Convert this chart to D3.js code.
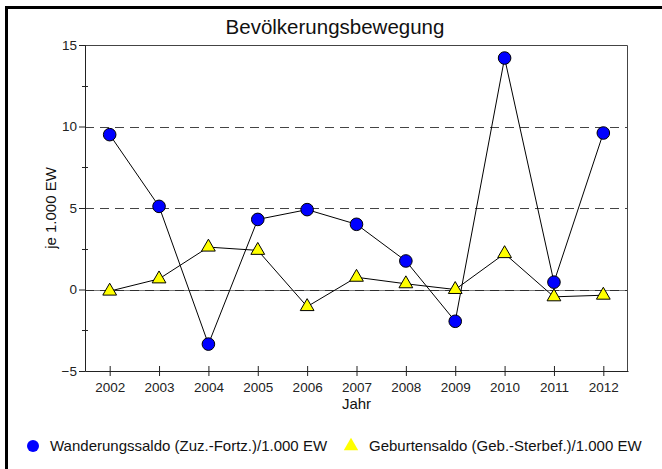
<!DOCTYPE html>
<html>
<head>
<meta charset="utf-8">
<script src="https://cdn.jsdelivr.net/npm/d3@7"></script>
<style>
  body { margin: 0; background: #fff; }
  svg { display: block; font-family: Arial, "Liberation Sans", sans-serif; }
</style>
</head>
<body>
<svg id="chart" width="662" height="469"></svg>
<script>
// data
const years = [2002, 2003, 2004, 2005, 2006, 2007, 2008, 2009, 2010, 2011, 2012];
const wanderung = [9.5, 5.1, -3.35, 4.3, 4.9, 4.0, 1.75, -1.95, 14.2, 0.45, 9.6];
const geburten = [-0.1, 0.65, 2.6, 2.4, -1.05, 0.75, 0.35, 0.0, 2.2, -0.45, -0.35];
const yTicks = [-5, 0, 5, 10, 15];
const yMinor = [-2.5, 2.5, 7.5, 12.5];
const gridVals = [0, 5, 10];
const seriesNames = ["Wanderungssaldo (Zuz.-Fortz.)/1.000 EW", "Geburtensaldo (Geb.-Sterbef.)/1.000 EW"];

const margin = {top: 45, right: 34, bottom: 98, left: 85};
const W = 662, H = 469;
const w = W - margin.left - margin.right;
const h = H - margin.top - margin.bottom;

const svg = d3.select("#chart");

// outer frame (only top and left visible)
svg.append("path")
    .attr("d", `M6.5,${H} V7.5 H${W}`)
    .attr("fill", "none")
    .attr("stroke", "#000")
    .attr("stroke-width", 3);

svg.append("text")
    .attr("x", 335).attr("y", 34)
    .attr("text-anchor", "middle")
    .attr("font-size", "20.5px")
    .attr("fill", "#111")
    .text("Bevölkerungsbewegung");

const g = svg.append("g").attr("transform", `translate(${margin.left},${margin.top})`);

const x = d3.scaleLinear().domain([2001.5, 2012.5]).range([0, w]);
const y = d3.scaleLinear().domain([-5, 15]).range([h, 0]);

// dashed gridlines
g.selectAll(".grid")
  .data(gridVals)
  .enter().append("line")
    .attr("x1", 0).attr("x2", w)
    .attr("y1", d => Math.round(y(d)) + 0.5)
    .attr("y2", d => Math.round(y(d)) + 0.5)
    .attr("stroke", "#444")
    .attr("stroke-dasharray", "9,6");

g.append("line")
    .attr("x1", 0).attr("x2", w)
    .attr("y1", Math.round(y(0)) + 0.5).attr("y2", Math.round(y(0)) + 0.5)
    .attr("stroke", "#222")
    .attr("stroke-opacity", 0.6);

// top / right frame of plot area
g.append("path")
    .attr("d", `M0,0.5 H${w - 0.5} V${h}`)
    .attr("fill", "none")
    .attr("stroke", "#444");

// y axis
const yAxis = g.append("g")
    .call(d3.axisLeft(y).tickValues(yTicks).tickSize(6).tickPadding(2).tickFormat(d3.format("d")));
yAxis.select(".domain").attr("stroke", "#222");
yAxis.selectAll(".tick line").attr("stroke", "#222");
yAxis.selectAll("text").attr("font-size", "13.5px").attr("fill", "#222").attr("font-family", null);

g.selectAll(".minor")
  .data(yMinor)
  .enter().append("line")
    .attr("x1", -3).attr("x2", 3)
    .attr("y1", d => Math.round(y(d)) + 0.5)
    .attr("y2", d => Math.round(y(d)) + 0.5)
    .attr("stroke", "#222");

// x axis
const xAxis = g.append("g")
    .attr("transform", `translate(0,${h})`)
    .call(d3.axisBottom(x).tickValues(years).tickSize(5).tickPadding(6).tickSizeOuter(0).tickFormat(d3.format("d")));
xAxis.select(".domain").attr("stroke", "#222");
xAxis.selectAll(".tick line").attr("y1", -5).attr("stroke", "#222");
xAxis.selectAll("text").attr("font-size", "13.5px").attr("fill", "#222").attr("font-family", null);

// axis titles
g.append("text")
    .attr("x", w / 2).attr("y", h + 38)
    .attr("text-anchor", "middle")
    .attr("font-size", "15px")
    .attr("fill", "#111")
    .text("Jahr");

svg.append("text")
    .attr("transform", `translate(56,${margin.top + h / 2}) rotate(-90)`)
    .attr("text-anchor", "middle")
    .attr("font-size", "15px")
    .attr("fill", "#111")
    .text("je 1.000 EW");

// lines
const line = d3.line().x(d => x(d[0])).y(d => y(d[1]));

g.append("path")
    .datum(d3.zip(years, geburten))
    .attr("d", line)
    .attr("fill", "none")
    .attr("stroke", "#000");

g.append("path")
    .datum(d3.zip(years, wanderung))
    .attr("d", line)
    .attr("fill", "none")
    .attr("stroke", "#000");

const tri = d3.symbol().type(d3.symbolTriangle).size(82);

g.selectAll(".tri")
  .data(d3.zip(years, geburten))
  .enter().append("path")
    .attr("d", tri)
    .attr("transform", d => `translate(${x(d[0])},${y(d[1])})`)
    .attr("fill", "#ffff00")
    .attr("stroke", "#000");

g.selectAll(".dot")
  .data(d3.zip(years, wanderung))
  .enter().append("circle")
    .attr("cx", d => x(d[0]))
    .attr("cy", d => y(d[1]))
    .attr("r", 6.3)
    .attr("fill", "#0000ff")
    .attr("stroke", "#000");

// legend
const legend = svg.append("g");
legend.append("circle")
    .attr("cx", 33).attr("cy", 446).attr("r", 6)
    .attr("fill", "#0000ff");
legend.append("text")
    .attr("x", 50).attr("y", 451)
    .attr("font-size", "15px")
    .attr("fill", "#111")
    .text(seriesNames[0]);
legend.append("path")
    .attr("d", d3.symbol().type(d3.symbolTriangle).size(90))
    .attr("transform", "translate(351,446)")
    .attr("fill", "#ffff00");
legend.append("text")
    .attr("x", 369).attr("y", 451)
    .attr("font-size", "15px")
    .attr("fill", "#111")
    .text(seriesNames[1]);
</script>
</body>
</html>
